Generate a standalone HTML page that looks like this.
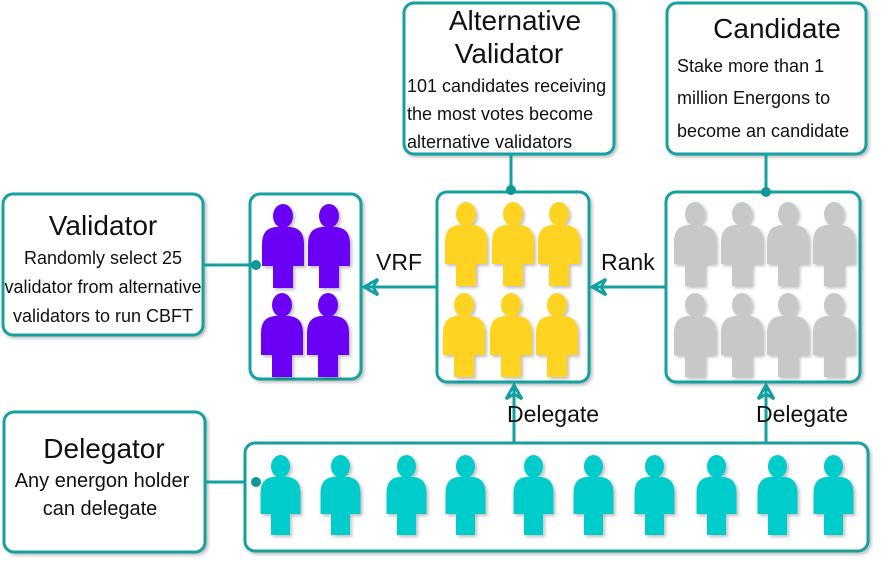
<!DOCTYPE html>
<html><head><meta charset="utf-8"><style>
html,body{margin:0;padding:0;background:#fff;width:891px;height:565px;overflow:hidden}
svg text{font-family:"Liberation Sans",sans-serif;fill:#111}
</style></head><body>
<svg width="891" height="565" viewBox="0 0 891 565" xmlns="http://www.w3.org/2000/svg">
<defs>
<filter id="sh" x="-10%" y="-10%" width="130%" height="130%"><feDropShadow dx="2" dy="2" stdDeviation="1.5" flood-color="#000" flood-opacity="0.25"/></filter>
<symbol id="p" viewBox="0 0 42 84" overflow="visible">
<ellipse cx="21" cy="12" rx="10" ry="12"/>
<path d="M0 62 L0 40 Q0 24 14 23 L28 23 Q42 24 42 40 L42 62 Z"/>
<rect x="11" y="61" width="20" height="23"/>
</symbol>
</defs>
<g fill="#fff" stroke="#14a0a0" stroke-width="3" filter="url(#sh)">
<rect x="3" y="194" width="200" height="141" rx="10"/>
<rect x="250" y="194" width="111" height="185" rx="10"/>
<rect x="437" y="192" width="152" height="190" rx="10"/>
<rect x="666" y="192" width="194" height="190" rx="10"/>
<rect x="404" y="3" width="210" height="151" rx="10"/>
<rect x="667" y="3" width="199" height="151" rx="10"/>
<rect x="4" y="412" width="201" height="140" rx="10"/>
<rect x="245" y="443" width="623" height="108" rx="10"/>
</g>
<g stroke="#14a0a0" stroke-width="3" fill="none">
<line x1="203" y1="265" x2="250" y2="265"/>
<line x1="511" y1="154" x2="511" y2="192"/>
<line x1="766" y1="154" x2="766" y2="192"/>
<line x1="205" y1="482" x2="245" y2="482"/>
<line x1="437" y1="287" x2="364" y2="287"/>
<polyline points="378,279 364,287 378,295 373,287 378,279"/>
<line x1="666" y1="287" x2="592" y2="287"/>
<polyline points="606,279 592,287 606,295 601,287 606,279"/>
<line x1="514" y1="443" x2="514" y2="385"/>
<polyline points="506,399 514,385 522,399 514,394 506,399"/>
<line x1="766" y1="443" x2="766" y2="385"/>
<polyline points="758,399 766,385 774,399 766,394 758,399"/>
</g>
<g fill="#0e9898">
<circle cx="256" cy="265" r="5"/><circle cx="511" cy="190" r="5"/><circle cx="766" cy="192" r="5"/><circle cx="256" cy="482" r="5"/>
</g>
<g fill="#6a00f4" filter="url(#sh)">
<use href="#p" x="262" y="204" width="42" height="84"/><use href="#p" x="308" y="204" width="42" height="84"/>
<use href="#p" x="261" y="293" width="42" height="84"/><use href="#p" x="307" y="293" width="42" height="84"/>
</g>
<g fill="#fed320" filter="url(#sh)">
<use href="#p" x="445" y="202" width="42" height="84"/><use href="#p" x="492" y="202" width="42" height="84"/><use href="#p" x="538" y="202" width="42" height="84"/>
<use href="#p" x="443" y="293" width="42" height="84"/><use href="#p" x="490" y="293" width="42" height="84"/><use href="#p" x="536" y="293" width="42" height="84"/>
</g>
<g fill="#c8c8c8" filter="url(#sh)">
<use href="#p" x="674" y="202" width="42" height="84"/><use href="#p" x="721" y="202" width="42" height="84"/><use href="#p" x="767" y="202" width="42" height="84"/><use href="#p" x="813" y="202" width="42" height="84"/>
<use href="#p" x="674" y="293" width="42" height="84"/><use href="#p" x="721" y="293" width="42" height="84"/><use href="#p" x="767" y="293" width="42" height="84"/><use href="#p" x="813" y="293" width="42" height="84"/>
</g>
<g fill="#00cccc" filter="url(#sh)">
<use href="#p" x="260" y="455" width="41" height="80"/><use href="#p" x="320" y="455" width="41" height="80"/><use href="#p" x="386" y="455" width="41" height="80"/><use href="#p" x="445" y="455" width="41" height="80"/><use href="#p" x="513" y="455" width="41" height="80"/>
<use href="#p" x="573" y="455" width="41" height="80"/><use href="#p" x="634" y="455" width="41" height="80"/><use href="#p" x="696" y="455" width="41" height="80"/><use href="#p" x="757" y="455" width="41" height="80"/><use href="#p" x="813" y="455" width="41" height="80"/>
</g>
<g text-anchor="middle">
<text x="103" y="235" font-size="28">Validator</text>
<text x="103" y="264" font-size="18">Randomly select 25</text>
<text x="103" y="293" font-size="18">validator from alternative</text>
<text x="103" y="322" font-size="18">validators to run CBFT</text>
<text x="515" y="30" font-size="28">Alternative</text>
<text x="509" y="63" font-size="28">Validator</text>
<text x="777" y="38" font-size="28">Candidate</text>
<text x="104" y="458" font-size="28">Delegator</text>
<text x="102" y="487" font-size="20">Any energon holder</text>
<text x="100" y="515" font-size="20">can delegate</text>
</g>
<g font-size="18">
<text x="407" y="92">101 candidates receiving</text>
<text x="407" y="120">the most votes become</text>
<text x="407" y="148">alternative validators</text>
<text x="677" y="72">Stake more than 1</text>
<text x="677" y="104">million Energons to</text>
<text x="677" y="137">become an candidate</text>
</g>
<g font-size="23">
<text x="376" y="270">VRF</text>
<text x="601" y="270">Rank</text>
<text x="507" y="422">Delegate</text>
<text x="756" y="422">Delegate</text>
</g>
</svg>
</body></html>
